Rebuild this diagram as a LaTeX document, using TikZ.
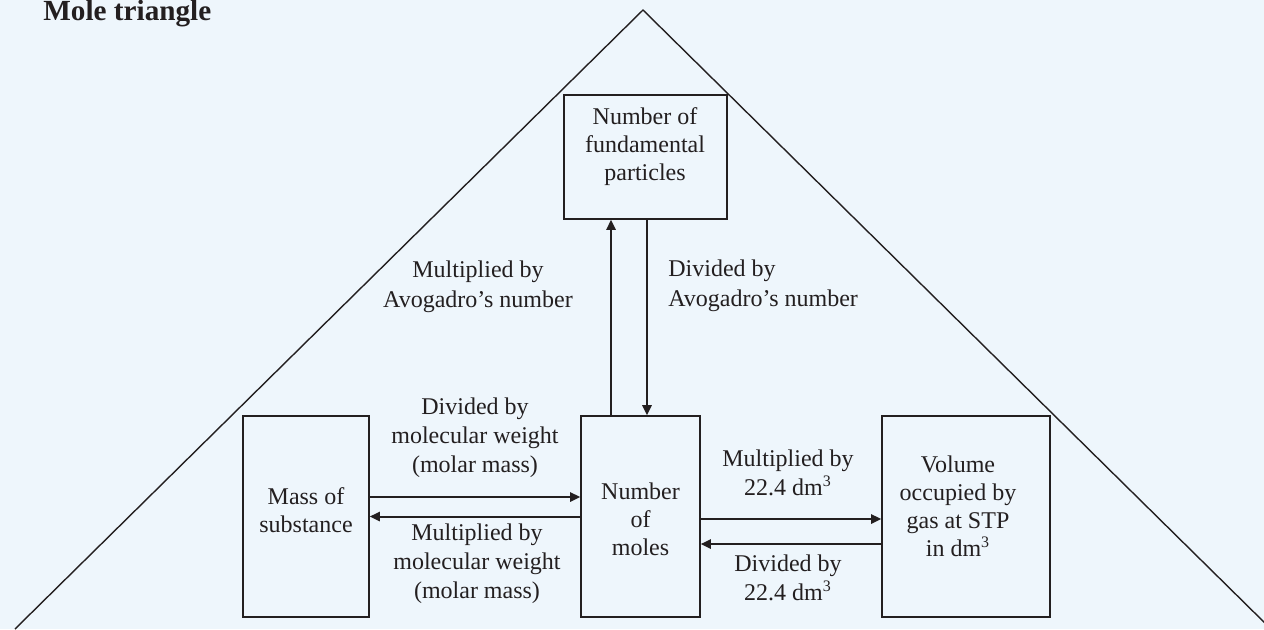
\documentclass[tikz,border=0pt]{standalone}
\usepackage{fontspec}
\setmainfont{Liberation Serif}
\usetikzlibrary{arrows.meta}
\definecolor{bg}{RGB}{238,246,252}
\definecolor{ink}{RGB}{35,31,32}
\begin{document}
\begin{tikzpicture}[x=0.5pt,y=-0.5pt,
  box/.style={draw=ink, fill=bg, line width=0.8pt, inner sep=0pt},
  txt/.style={text=ink, font=\fontsize{12}{14}\selectfont, align=center, inner sep=0pt},
  lbl/.style={text=ink, font=\fontsize{12}{14.5}\selectfont, align=center, inner sep=0pt},
  arr/.style={draw=ink, line width=1pt, -{Triangle[length=5pt,width=4.6pt]}}]
\useasboundingbox (0,0) rectangle (1264,629);
\fill[bg] (0,0) rectangle (1264,629);
\begin{scope}
  \clip (0,0) rectangle (1264,629);
  \draw[ink, line width=0.7pt] (15,629) -- (643,10) -- (1271,629);
  \node[anchor=base west, text=ink, inner sep=0pt, font=\bfseries\fontsize{14.6}{17}\selectfont] (title) at (43,20) {Mole triangle};
\end{scope}
% boxes
\node[box, minimum width=81.5pt, minimum height=62pt] (top) at (645.5,157) {};
\node[box, minimum width=63pt, minimum height=100.5pt] (mass) at (306,516.5) {};
\node[box, minimum width=59.5pt, minimum height=100.5pt] (moles) at (640.5,516.5) {};
\node[box, minimum width=84pt, minimum height=100.5pt] (vol) at (966,516.5) {};
% box texts
\node[txt] (toptext) at (645,147) {Number of\\fundamental\\particles};
\node[txt] (masstext) at (306,510) {Mass of\\substance};
\node[txt] (molestext) at (640.5,519) {Number\\of\\moles};
\node[txt] (voltext) at (958,506) {Volume\\occupied by\\gas at STP\\in dm\textsuperscript{3}};
% connector labels
\node[lbl, font=\fontsize{12}{15}\selectfont] (avoL) at (478,287) {Multiplied by\\Avogadro’s number};
\node[lbl, font=\fontsize{12}{15}\selectfont, align=left, anchor=west] (avoR) at (668,286) {Divided by\\Avogadro’s number};
\node[lbl] (mwTop) at (475,438) {Divided by\\molecular weight\\(molar mass)};
\node[lbl] (mwBot) at (477,564) {Multiplied by\\molecular weight\\(molar mass)};
\node[lbl] (dmTop) at (788,473) {Multiplied by\\22.4 dm\textsuperscript{3}};
\node[lbl] (dmBot) at (788,578) {Divided by\\22.4 dm\textsuperscript{3}};
% connectors
\draw[arr] ([yshift=9.75pt]mass.east) -- ([yshift=9.75pt]mass.east -| moles.west);
\draw[arr] (moles.west) -- (moles.west -| mass.east);
\draw[arr] ([yshift=-1.25pt]moles.east) -- ([yshift=-1.25pt]moles.east -| vol.west);
\draw[arr] ([yshift=-13.75pt]vol.west) -- ([yshift=-13.75pt]vol.west -| moles.east);
\draw[arr] ([xshift=-14.75pt]moles.north) -- ([xshift=-14.75pt]moles.north |- top.south);
\draw[arr] ([xshift=0.75pt]top.south) -- ([xshift=0.75pt]top.south |- moles.north);
\end{tikzpicture}
\end{document}
